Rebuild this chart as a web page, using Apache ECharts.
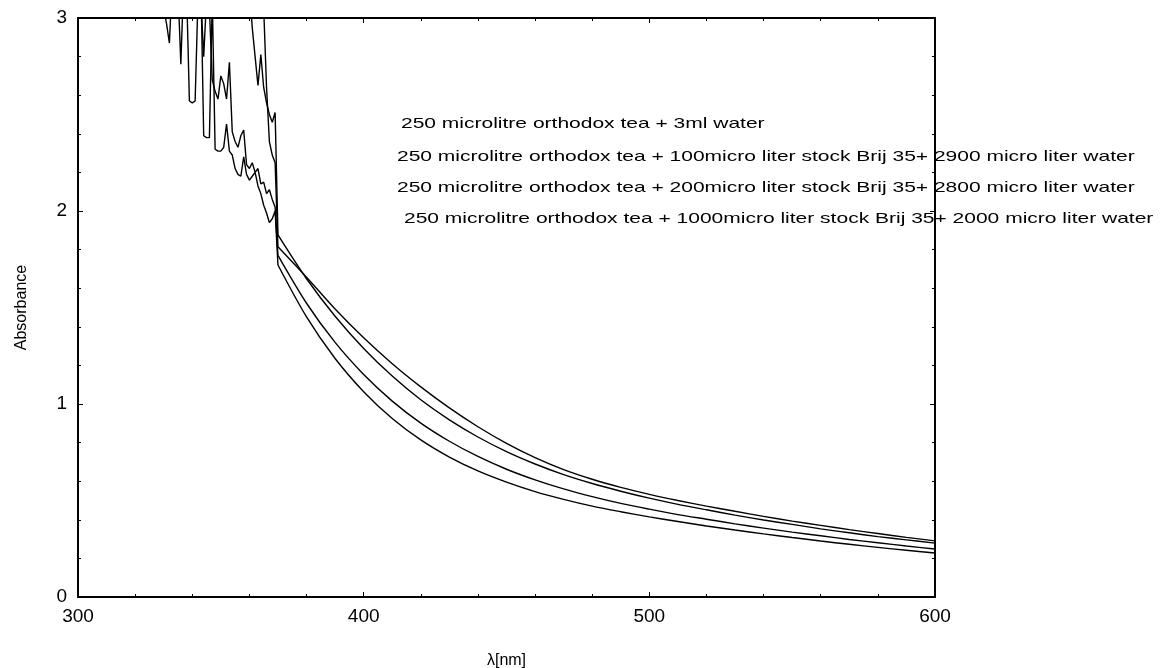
<!DOCTYPE html>
<html>
<head>
<meta charset="utf-8">
<script src="https://cdn.jsdelivr.net/npm/echarts@6/dist/echarts.min.js"></script>
<style>
    html, body { margin: 0; padding: 0; background: #fff; }
    #chart { width: 1166px; height: 668px; }
</style>
</head>
<body>
<div id="chart"></div>
<script>
// noisy UV part, 1 nm steps (values above 3 are off the plot and get clipped)
const lambdaUv = [
    325, 326, 327, 328, 329, 330, 331, 332, 333, 334, 335, 336, 337, 338, 339,
    340, 341, 342, 343, 344, 345, 346, 347, 348, 349, 350, 351, 352, 353, 354,
    355, 356, 357, 358, 359, 360, 361, 362, 363, 364, 365, 366, 367, 368, 369, 370
];
// smooth visible part, 10 nm steps
const lambdaVis = [
    370, 380, 390, 400, 410, 420, 430, 440, 450, 460, 470, 480,
    490, 500, 510, 520, 530, 540, 550, 560, 570, 580, 590, 600
];

const waterUv = [
    3.6, 3.6, 3.6, 3.6, 3.6, 3.6, 3.6, 3.6, 3.6, 3.6, 3.6, 3.6, 3.6, 3.6, 3.6,
    3.6, 3.6, 3.6, 3.6, 3.6, 3.6, 3.6, 3.6, 3.6, 3.6, 3.6, 3.6, 3.6, 3.6, 3.6,
    3.6, 3.6, 3.6, 3.6, 3.6, 3.6, 3.6, 3.6, 3.6, 3.4, 3.05, 2.64, 2.36, 2.29, 2.25, 1.815
];
const waterVis = [
    1.815, 1.657, 1.492, 1.343, 1.209, 1.089, 0.980, 0.882, 0.796, 0.722, 0.660, 0.610,
    0.568, 0.532, 0.500, 0.471, 0.444, 0.418, 0.393, 0.371, 0.349, 0.329, 0.309, 0.291
];

const brij100Uv = [
    3.6, 3.6, 3.6, 3.6, 3.6, 3.6, 3.6, 3.6, 3.6, 3.6, 3.6, 3.6, 3.6, 3.6, 3.6,
    3.6, 3.6, 3.6, 3.6, 3.6, 3.6, 3.6, 3.6, 3.6, 3.6, 3.6, 3.6, 3.6, 3.6, 3.6,
    3.6, 3.6, 3.6, 3.6, 3.5, 3.15, 2.95, 2.80, 2.65, 2.81, 2.64, 2.56, 2.50, 2.46, 2.51, 1.876
];
const brij100Vis = [
    1.876, 1.649, 1.455, 1.288, 1.145, 1.022, 0.918, 0.829, 0.753, 0.689, 0.634, 0.588,
    0.548, 0.512, 0.480, 0.452, 0.424, 0.399, 0.376, 0.353, 0.333, 0.313, 0.296, 0.279
];

const brij200Uv = [
    3.6, 3.6, 3.5, 3.4, 3.4, 3.3, 3.3, 3.2, 3.3, 3.2, 3.2, 3.1, 3.2, 3.1, 3.1,
    3.2, 3.1, 3.05, 3.1, 2.80, 3.1, 3.05, 2.68, 2.62, 2.58, 2.70, 2.66, 2.58, 2.77, 2.41,
    2.36, 2.33, 2.39, 2.42, 2.24, 2.22, 2.25, 2.20, 2.22, 2.14, 2.15, 2.09, 2.11, 2.06, 2.02, 1.770
];
const brij200Vis = [
    1.770, 1.522, 1.319, 1.153, 1.015, 0.901, 0.807, 0.728, 0.662, 0.607, 0.560, 0.520,
    0.485, 0.455, 0.427, 0.403, 0.379, 0.357, 0.336, 0.317, 0.298, 0.281, 0.264, 0.249
];

const brij1000Uv = [
    3.5, 3.4, 3.3, 3.2, 3.1, 3.05, 2.97, 2.87, 3.2, 3.3, 3.15, 2.76, 3.2, 3.15, 2.57,
    2.56, 2.57, 3.1, 3.2, 2.39, 2.38, 2.38, 3.1, 2.32, 2.31, 2.31, 2.33, 2.45, 2.31, 2.29,
    2.22, 2.19, 2.18, 2.28, 2.19, 2.16, 2.18, 2.20, 2.13, 2.09, 2.03, 1.99, 1.94, 1.96, 2.00, 1.720
];
const brij1000Vis = [
    1.720, 1.451, 1.236, 1.064, 0.925, 0.814, 0.725, 0.653, 0.595, 0.546, 0.506, 0.471,
    0.442, 0.415, 0.391, 0.368, 0.347, 0.327, 0.308, 0.290, 0.273, 0.257, 0.242, 0.228
];

const seriesNames = [
    '250 microlitre orthodox tea + 3ml water',
    '250 microlitre orthodox tea + 100micro liter stock Brij 35+ 2900 micro liter water',
    '250 microlitre orthodox tea + 200micro liter stock Brij 35+ 2800 micro liter water',
    '250 microlitre orthodox tea + 1000micro liter stock Brij 35+ 2000 micro liter water'
];
const uvValues = [waterUv, brij100Uv, brij200Uv, brij1000Uv];
const visValues = [waterVis, brij100Vis, brij200Vis, brij1000Vis];

const font = '"Liberation Sans", Arial, sans-serif';

// label lines (x, y centre); the original text is stretched sideways
const labelPos = [[401, 124], [397, 157], [397, 188], [404, 219]];

const chart = echarts.init(document.getElementById('chart'));

const axisCommon = {
    type: 'value',
    axisLine: { show: true, onZero: false, lineStyle: { color: '#000', width: 2 } },
    axisTick: { show: true, inside: true, length: 5, lineStyle: { color: '#000', width: 1 } },
    minorTick: { show: true, splitNumber: 5, length: 3, lineStyle: { color: '#000', width: 1 } },
    splitLine: { show: false },
    minorSplitLine: { show: false }
};

const xBase = Object.assign({}, axisCommon, { min: 300, max: 600, interval: 100 });
const yBase = Object.assign({}, axisCommon, { min: 0, max: 3, interval: 1 });

const lineSeries = (name, xs, ys, smooth) => ({
    name: name,
    type: 'line',
    xAxisIndex: 0,
    yAxisIndex: 0,
    showSymbol: false,
    symbol: 'none',
    clip: true,
    smooth: smooth,
    lineStyle: { color: '#000', width: 1.4 },
    data: xs.map((x, i) => [x, ys[i]])
});

const series = [];
seriesNames.forEach((name, s) => {
    series.push(lineSeries(name, lambdaUv, uvValues[s], false));
    series.push(lineSeries(name, lambdaVis, visValues[s], 0.3));
});

const option = {
    animation: false,
    backgroundColor: '#fff',
    grid: { left: 78, right: 231, top: 18, bottom: 71, containLabel: false, outerBoundsMode: 'none' },
    xAxis: [
        Object.assign({}, xBase, {
            position: 'bottom',
            name: 'λ[nm]',
            nameLocation: 'middle',
            nameGap: 56,
            nameTextStyle: { color: '#000', fontSize: 16, fontFamily: font },
            axisLabel: { color: '#000', fontSize: 19, fontFamily: font, margin: 10, hideOverlap: false }
        }),
        Object.assign({}, xBase, { position: 'top', axisLabel: { show: false } })
    ],
    yAxis: [
        Object.assign({}, yBase, {
            position: 'left',
            name: 'Absorbance',
            nameLocation: 'middle',
            nameRotate: 90,
            nameGap: 48,
            nameTextStyle: { color: '#000', fontSize: 16, fontFamily: font },
            axisLabel: { color: '#000', fontSize: 19, fontFamily: font, margin: 11, hideOverlap: false }
        }),
        Object.assign({}, yBase, { position: 'right', axisLabel: { show: false } })
    ],
    series: series,
    graphic: seriesNames.map((name, s) => ({
        type: 'text',
        x: labelPos[s][0],
        y: labelPos[s][1],
        scaleX: 1.40,
        z: 100,
        style: {
            text: name,
            fill: '#000',
            fontSize: 15,
            fontFamily: font,
            verticalAlign: 'middle'
        }
    }))
};

chart.setOption(option);
</script>
</body>
</html>
